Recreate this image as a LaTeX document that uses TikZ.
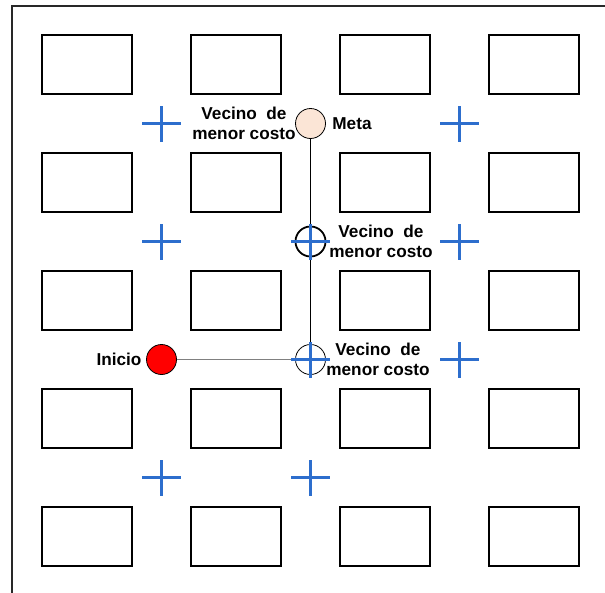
\documentclass[tikz,border=0pt]{standalone}
\usepackage{fontspec}
\setmainfont{Liberation Sans}
\definecolor{crossblue}{RGB}{45,110,205}
\definecolor{metafill}{RGB}{251,229,214}
\definecolor{framegray}{RGB}{40,40,40}
\begin{document}
\begin{tikzpicture}[x=1pt,y=-1pt,
  cell/.style={draw=black,line width=1.3pt,minimum width=90pt,minimum height=59pt,inner sep=0pt},
  dot/.style={circle,draw=black,line width=0.8pt,minimum size=30pt,inner sep=0pt},
  lbl/.style={font=\fontsize{17.2}{19.5}\selectfont\bfseries,align=center,inner sep=0pt},
  crs/.style={draw=crossblue,color=crossblue,line width=2.2pt}]
\useasboundingbox (0,0) rectangle (605,592);
\draw[framegray,line width=1.4pt] (605,6) -- (12,6) -- (12,595);
% grid of cells
\foreach \c/\cx in {1/87,2/236,3/385,4/534}{
  \foreach \r/\ry in {1/64.5,2/182.5,3/300.5,4/418.5,5/536.5}{
    \node[cell] (r\r c\c) at (\cx,\ry) {};
  }
}
% circles
\node[dot,fill=metafill] (meta) at (310.5,123.5) {};
\node[dot,line width=1.8pt] (v2) at (310.5,241.5) {};
\node[dot] (v1) at (310.5,359.5) {};
\node[dot,fill=red] (inicio) at (161.5,359.5) {};
% path
\draw[black,line width=0.8pt] (meta) -- (v2) -- (v1);
\draw[gray,line width=1.2pt] (inicio) -- (v1);
% crosses
\foreach \n/\px/\py in {a/161.5/123.5,b/459.5/123.5,c/161.5/241.5,d/310.5/241.5,e/459.5/241.5,f/310.5/359.5,g/459.5/359.5,h/161.5/477.5,i/310.5/477.5}{
  \coordinate (k\n) at (\px,\py);
  \draw[crs] ([xshift=-19.5pt]k\n) -- ([xshift=19.5pt]k\n);
  \draw[crs] ([yshift=-18pt]k\n) -- ([yshift=18pt]k\n);
}
% labels
\node[lbl] (l1) at (244,123.5) {Vecino\ \ de\\menor costo};
\node[lbl] (l2) at (381,241.5) {Vecino\ \ de\\menor costo};
\node[lbl] (l3) at (378,359.5) {Vecino\ \ de\\menor costo};
\node[lbl] (lmeta) at (352,124) {Meta};
\node[lbl] (linicio) at (119,359.5) {Inicio};
\end{tikzpicture}
\end{document}
